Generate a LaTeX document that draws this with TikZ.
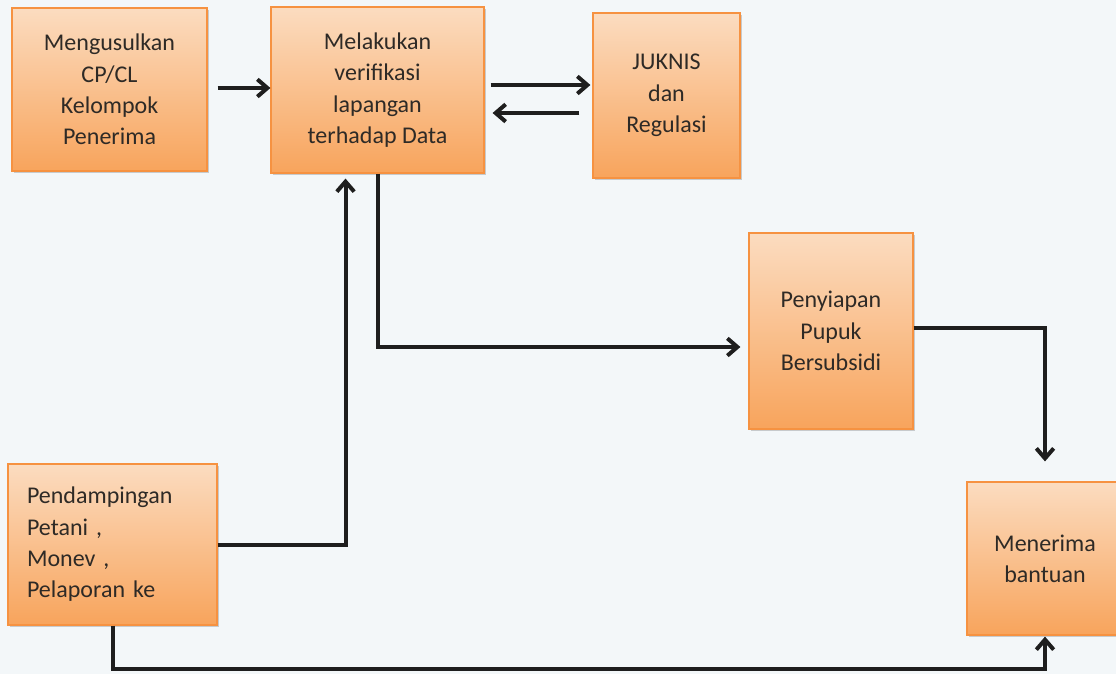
\documentclass[tikz,border=0pt]{standalone}
\usepackage{fontspec}
\setmainfont{Carlito}
\usetikzlibrary{arrows.meta,calc,shadows}
\definecolor{bgcol}{HTML}{F3F7F9}
\definecolor{boxtop}{HTML}{FBDCC0}
\definecolor{boxbot}{HTML}{F8A45C}
\definecolor{boxedge}{HTML}{F69241}
\definecolor{ink}{HTML}{2E2A26}
\definecolor{wire}{HTML}{1E1E1E}
\tikzset{
  procbox/.style={rectangle, draw=boxedge, line width=0.9pt,
    top color=boxtop, bottom color=boxbot, text=ink,
    align=center, inner sep=0pt,
    font=\fontsize{18}{23.5}\selectfont,
    drop shadow={shadow xshift=1.2pt, shadow yshift=-1.2pt, fill=black, opacity=0.18}},
  flow/.style={draw=wire, line width=3pt,
    -{Straight Barb[length=7.5pt,width=13pt,line width=3pt]}}
}
\begin{document}
\begin{tikzpicture}[x=0.75pt,y=-0.75pt]
  \fill[bgcol] (0,0) rectangle (1116,674);
  \useasboundingbox (0,0) rectangle (1116,674);

  \node[procbox, minimum width=146.25pt, minimum height=122.25pt] (A) at (109.5,89.5)
    {Mengusulkan\\CP/CL\\Kelompok\\Penerima};
  \node[procbox, minimum width=159.75pt, minimum height=124.5pt] (B) at (377.5,90)
    {Melakukan\\verifikasi\\lapangan\\terhadap Data};
  \node[procbox, minimum width=110.25pt, minimum height=123.75pt] (C) at (666.5,95.5)
    {JUKNIS\\dan\\Regulasi};
  \node[procbox, minimum width=123pt, minimum height=147pt] (D) at (831,331)
    {Penyiapan\\Pupuk\\Bersubsidi};
  \node[procbox, align=left, text width=128.25pt, inner xsep=14.25pt,
        minimum height=120.75pt] (E) at (112.5,544.5)
    {Pendampingan\\Petani ,\\Monev ,\\Pelaporan ke};
  \node[procbox, minimum width=117pt, minimum height=114.75pt] (F) at (1045,558.5)
    {Menerima\\bantuan};

  % connectors
  \draw[flow] ($(A.east)+(10,-1.5)$) -- ($(A.east -| B.west)+(0,-1.5)$);
  \draw[flow] ($(B.east)+(6,-5)$) -- ($(B.east -| C.west)+(-2,-5)$);
  \draw[flow] ($(B.east -| C.west)+(-13,23)$) -- ($(B.east)+(8,23)$);
  \draw[flow] ($(B.south)+(0,0)$) |- ($(D.west)+(-8,16)$);
  \draw[flow] (E.east) -| ($(B.south)+(-32,5)$);
  \draw[flow] ($(D.east)+(0,-3)$) -| ($(F.north)+(0,-20)$);
  \draw[flow] (E.south) -- ++(0,43) -| ($(F.south)+(0,1)$);
\end{tikzpicture}
\end{document}
